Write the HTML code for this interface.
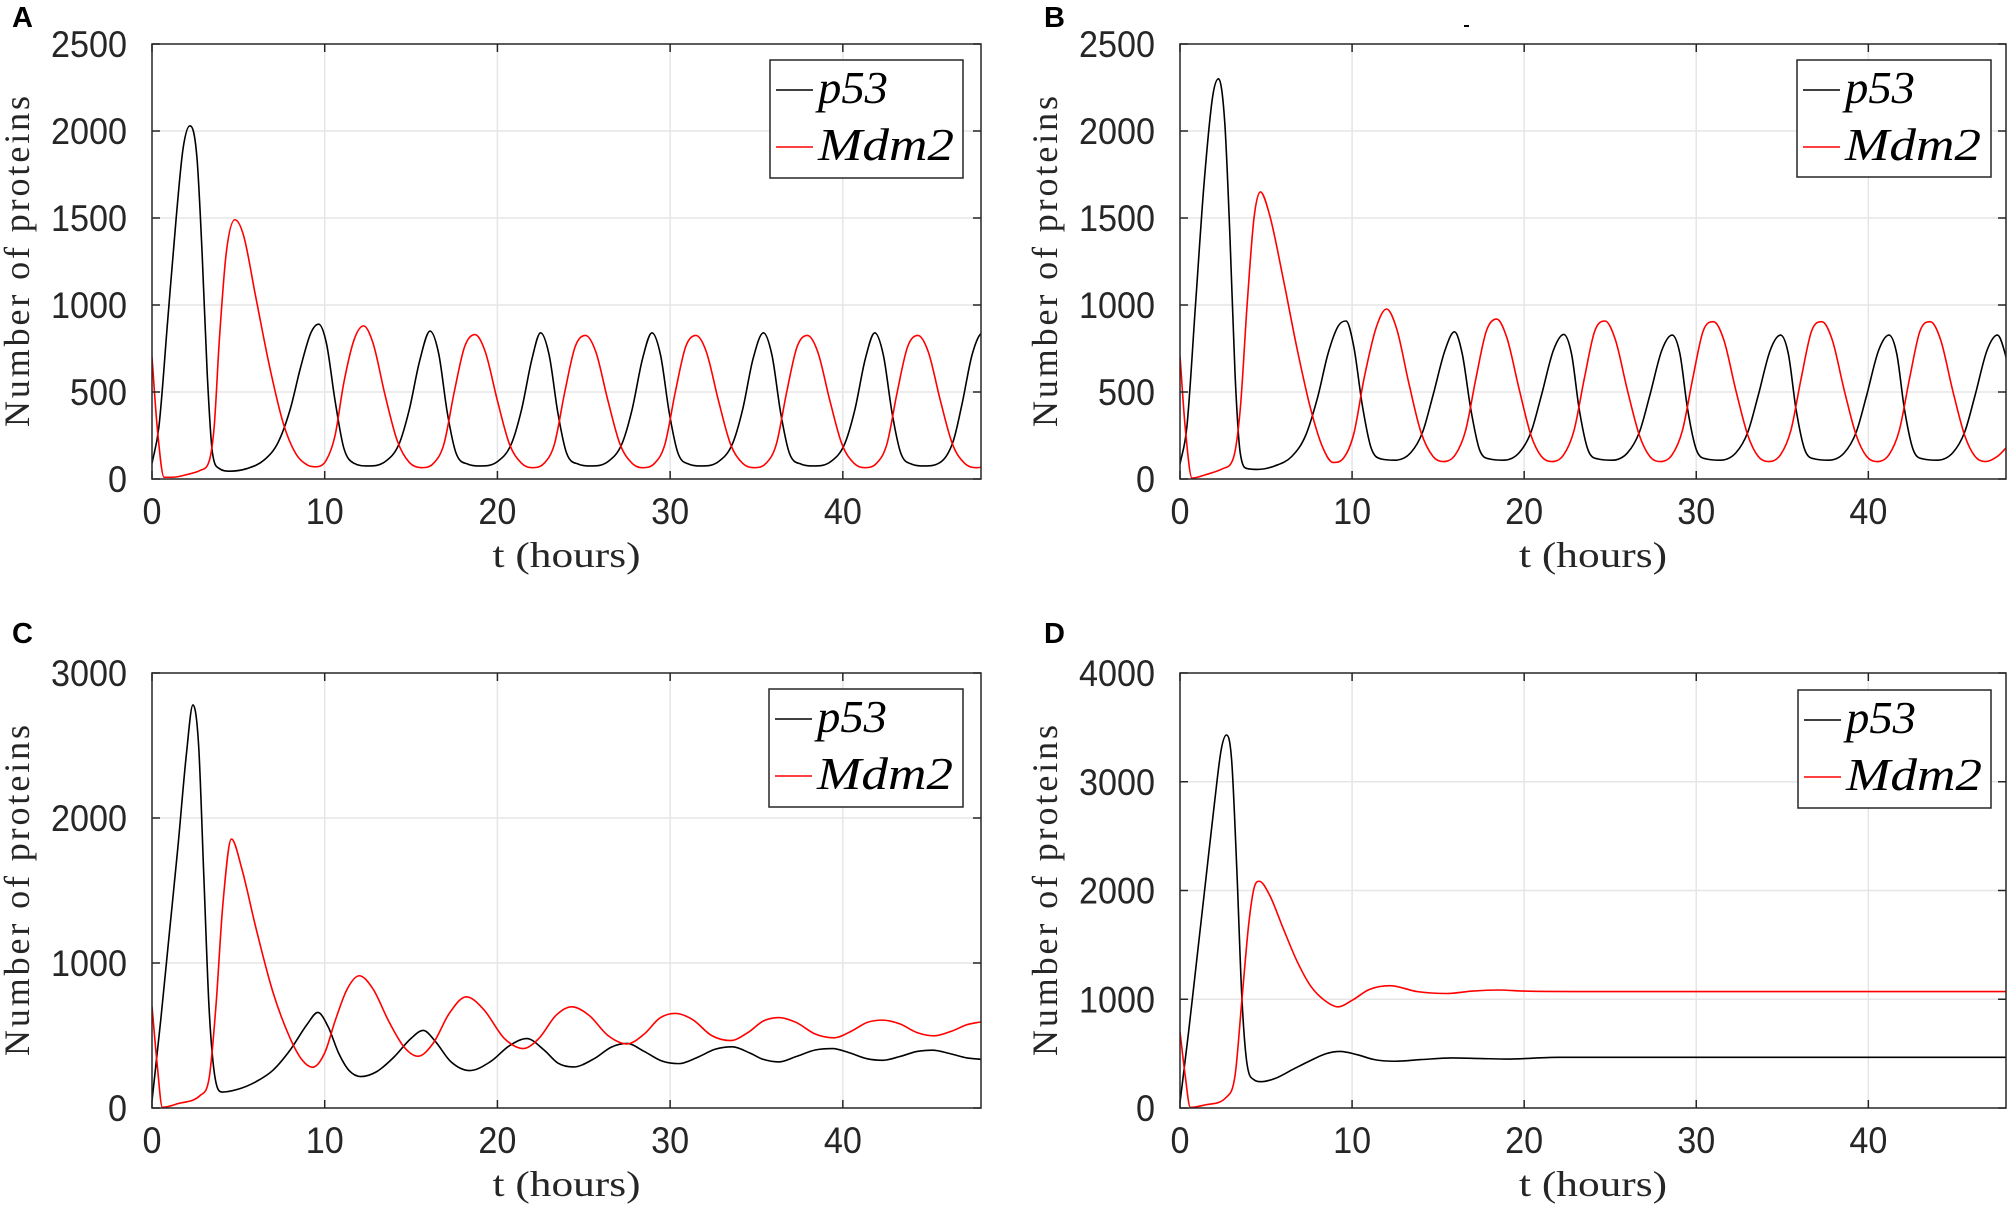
<!DOCTYPE html>
<html><head><meta charset="utf-8"><title>p53 / Mdm2 dynamics</title>
<style>
html,body{margin:0;padding:0;background:#fff;}
svg{display:block;}
.tick{font-family:"Liberation Sans",sans-serif;font-size:37px;fill:#262626;}
.ttl{font-family:"Liberation Serif",serif;font-size:36px;fill:#262626;}
.leg{font-family:"Liberation Serif",serif;font-style:italic;font-size:46px;fill:#000;}
.plab{font-family:"Liberation Sans",sans-serif;font-weight:bold;font-size:29px;fill:#000;}
</style></head>
<body>
<svg id="fig" width="2008" height="1209" viewBox="0 0 2008 1209" xmlns="http://www.w3.org/2000/svg">
<line x1="1464" y1="26" x2="1469" y2="26" stroke="#000" stroke-width="2"/>
</svg>
<script>
// ---------- data (t in hours, value = number of proteins) ----------
const xTicks = [0,10,20,30,40];
const yTicksA = [0,500,1000,1500,2000,2500];
const yTicksB = [0,500,1000,1500,2000,2500];
const yTicksC = [0,1000,2000,3000];
const yTicksD = [0,1000,2000,3000,4000];
const panelLetters = ["A","B","C","D"];
const seriesNames = ["p53","Mdm2"];

const aP53 = [[0,90],[0.4,300],[0.9,900],[1.4,1500],[1.8,1900],[2.2,2030],[2.6,1850],[2.9,1300],[3.2,600],[3.5,150],[3.9,60],[4.5,45],[5.5,60],[6.5,110],[7.3,210],[8.0,400],[8.6,640],[9.2,840],[9.65,890],[10.1,780],[10.6,450],[11.1,180],[11.7,90],[12.5,75],[13.5,100],[14.3,200],[14.9,400],[15.5,680],[16.1,850],[16.6,720],[17.1,380],[17.6,150],[18.3,85],[19.0,75],[20.0,100],[20.8,200],[21.4,400],[22.0,690],[22.5,840],[23.0,710],[23.5,380],[24.0,150],[24.7,85],[25.4,75],[26.4,100],[27.2,200],[27.8,400],[28.4,690],[28.95,840],[29.45,710],[29.95,380],[30.45,150],[31.1,85],[31.8,75],[32.8,100],[33.6,200],[34.2,400],[34.8,690],[35.4,840],[35.9,710],[36.4,380],[36.9,150],[37.6,85],[38.3,75],[39.3,100],[40.1,200],[40.7,400],[41.3,690],[41.85,840],[42.35,710],[42.85,380],[43.35,150],[44.0,85],[44.7,75],[45.7,100],[46.4,220],[46.9,430],[47.5,720],[48.1,840],[48.5,760]];
const aMdm2 = [[0,700],[0.3,300],[0.7,10],[1.2,10],[2,25],[2.8,50],[3.3,100],[3.6,300],[3.9,800],[4.3,1300],[4.8,1490],[5.3,1400],[6,1050],[6.8,650],[7.6,320],[8.3,150],[9,80],[9.5,70],[10.1,110],[10.6,250],[11.1,550],[11.7,800],[12.25,880],[12.8,780],[13.5,480],[14.2,220],[14.9,95],[15.6,65],[16.3,90],[16.9,200],[17.5,500],[18.1,760],[18.7,830],[19.3,730],[20.0,450],[20.7,200],[21.4,90],[22.0,65],[22.7,90],[23.3,200],[23.9,500],[24.5,760],[25.1,825],[25.7,730],[26.4,450],[27.1,200],[27.8,90],[28.4,65],[29.1,90],[29.7,200],[30.3,500],[30.9,760],[31.5,825],[32.1,730],[32.8,450],[33.5,200],[34.2,90],[34.85,65],[35.55,90],[36.15,200],[36.75,500],[37.35,760],[37.95,825],[38.55,730],[39.25,450],[39.95,200],[40.65,90],[41.25,65],[41.95,90],[42.55,200],[43.15,500],[43.75,760],[44.35,825],[44.95,730],[45.65,450],[46.35,200],[47.05,90],[47.7,65],[48.2,70]];

const bP53 = [[0,85],[0.4,300],[0.9,1000],[1.4,1700],[1.9,2200],[2.24,2300],[2.6,2050],[2.9,1400],[3.2,600],[3.5,150],[3.9,60],[4.5,55],[5.5,75],[6.5,130],[7.3,250],[8.0,470],[8.6,720],[9.2,880],[9.65,908],[10.1,760],[10.6,420],[11.1,180],[11.7,115],[12.5,108],[13.4,150],[14.1,270],[14.7,480],[15.4,740],[15.95,846],[16.4,720],[16.9,400],[17.4,170],[18.0,115],[18.8,108],[19.7,150],[20.4,270],[21.0,480],[21.7,740],[22.3,831],[22.75,720],[23.2,400],[23.7,170],[24.3,115],[25.1,108],[26.0,150],[26.7,270],[27.3,480],[28.0,740],[28.6,827],[29.05,720],[29.5,400],[30.0,170],[30.6,115],[31.4,108],[32.3,150],[33.0,270],[33.6,480],[34.3,740],[34.9,827],[35.35,720],[35.8,400],[36.3,170],[36.9,115],[37.7,108],[38.6,150],[39.3,270],[39.9,480],[40.6,740],[41.2,827],[41.65,720],[42.1,400],[42.6,170],[43.2,115],[44.0,108],[44.9,150],[45.6,270],[46.2,480],[46.9,740],[47.5,827],[47.95,720],[48.2,600]];
const bMdm2 = [[0,707],[0.3,300],[0.7,5],[1.5,25],[2.5,60],[3.1,120],[3.5,400],[3.9,1000],[4.3,1500],[4.67,1650],[5.2,1520],[6,1150],[6.8,750],[7.6,400],[8.3,180],[8.9,95],[9.5,120],[10.1,260],[10.7,580],[11.4,870],[12.0,977],[12.6,860],[13.3,550],[14.0,270],[14.7,130],[15.3,100],[16.0,140],[16.6,280],[17.2,580],[17.8,850],[18.4,919],[19.0,810],[19.7,520],[20.4,250],[21.0,130],[21.6,100],[22.3,140],[22.9,280],[23.5,580],[24.1,850],[24.7,908],[25.3,800],[26.0,510],[26.7,250],[27.3,130],[27.9,100],[28.6,140],[29.2,280],[29.8,580],[30.4,850],[31.0,904],[31.6,800],[32.3,510],[33.0,250],[33.6,130],[34.2,100],[34.9,140],[35.5,280],[36.1,580],[36.7,850],[37.3,904],[37.9,800],[38.6,510],[39.3,250],[39.9,130],[40.5,100],[41.2,140],[41.8,280],[42.4,580],[43.0,850],[43.6,904],[44.2,800],[44.9,510],[45.6,250],[46.2,130],[46.8,100],[47.5,130],[48.2,200]];

const cP53 = [[0,50],[0.5,600],[1,1200],[1.5,1800],[2,2450],[2.37,2780],[2.7,2500],[3.0,1600],[3.3,700],[3.6,250],[4.05,110],[5,130],[6,180],[7,260],[8,400],[9,580],[9.6,659],[10.2,560],[10.8,380],[11.4,260],[12.1,217],[13,250],[14,350],[15,480],[15.7,535],[16.4,460],[17.3,320],[18.4,258],[19.6,320],[20.7,430],[21.7,479],[22.7,400],[23.5,310],[24.4,283],[25.6,340],[26.6,420],[27.5,445],[28.5,390],[29.5,325],[30.5,306],[31.6,350],[32.6,405],[33.6,422],[34.6,380],[35.4,335],[36.3,318],[37.3,355],[38.4,400],[39.4,410],[40.4,380],[41.4,340],[42.3,329],[43.3,355],[44.3,390],[45.2,399],[46.2,375],[47.2,345],[48,336]];
const cMdm2 = [[0,700],[0.3,300],[0.6,5],[1.5,30],[2.8,88],[3.3,200],[3.7,700],[4.1,1400],[4.6,1855],[5.2,1650],[6,1250],[7,800],[8,480],[8.7,330],[9.3,281],[10,380],[10.6,600],[11.3,820],[12,912],[12.8,820],[13.7,600],[14.6,420],[15.4,357],[16.3,450],[17.2,650],[18.2,767],[19.2,680],[20.4,480],[21.5,410],[22.4,480],[23.4,640],[24.3,698],[25.3,640],[26.4,500],[27.5,442],[28.5,510],[29.4,620],[30.3,652],[31.3,610],[32.4,500],[33.5,465],[34.5,520],[35.4,600],[36.3,624],[37.3,590],[38.4,510],[39.5,484],[40.5,530],[41.4,590],[42.3,606],[43.3,580],[44.3,520],[45.3,498],[46.3,530],[47.2,575],[48,594]];

const dP53 = [[0,50],[0.5,700],[1,1400],[1.5,2100],[2,2800],[2.4,3300],[2.7,3430],[3,3200],[3.3,2200],[3.6,1000],[3.9,400],[4.3,260],[4.7,242],[5.5,270],[6.5,350],[7.5,430],[8.5,500],[9.3,520],[10.3,490],[11.3,445],[12.5,430],[14,445],[15.8,460],[17.5,455],[19,450],[22,466],[30,466],[48,466]];
const dMdm2 = [[0,700],[0.3,300],[0.6,5],[1.5,30],[2.7,100],[3.2,300],[3.6,1000],[4.0,1700],[4.3,2020],[4.6,2085],[5.2,1960],[6.0,1650],[6.8,1350],[7.6,1120],[8.4,990],[9.2,930],[10,990],[11,1090],[12.2,1125],[13.8,1070],[15.5,1053],[17,1075],[18.5,1085],[20,1075],[23,1071],[48,1071]];

// ---------- layout ----------
const panels = [
  {L:152, R:981, T:44, B:479, yMax:2500, yt:yTicksA, s:[aP53,aMdm2], lg:[770,60,963,178], lab:[12,27]},
  {L:1180, R:2006, T:44, B:479, yMax:2500, yt:yTicksB, s:[bP53,bMdm2], lg:[1797,60,1991,177], lab:[1044,27]},
  {L:152, R:981, T:673, B:1108, yMax:3000, yt:yTicksC, s:[cP53,cMdm2], lg:[769,689,963,807], lab:[12,643]},
  {L:1180, R:2006, T:673, B:1108, yMax:4000, yt:yTicksD, s:[dP53,dMdm2], lg:[1798,690,1991,808], lab:[1044,643]}
];
const colors = ["#000000","#ff0000"];
const NS = "http://www.w3.org/2000/svg";
const svg = document.getElementById("fig");
function mk(tag, attrs, parent){ const e=document.createElementNS(NS,tag); for(const k in attrs) e.setAttribute(k,attrs[k]); (parent||svg).appendChild(e); return e; }

function monotone(pts){
  const n=pts.length, xs=pts.map(p=>p[0]), ys=pts.map(p=>p[1]);
  const d=[], m=new Array(n);
  for(let i=0;i<n-1;i++) d.push((ys[i+1]-ys[i])/(xs[i+1]-xs[i]));
  m[0]=d[0]; m[n-1]=d[n-2];
  for(let i=1;i<n-1;i++){ m[i]=(d[i-1]*d[i]<=0)?0:(d[i-1]+d[i])/2; }
  for(let i=0;i<n-1;i++){
    if(d[i]===0){m[i]=0;m[i+1]=0;continue;}
    const a=m[i]/d[i], b=m[i+1]/d[i], s=a*a+b*b;
    if(s>9){const t=3/Math.sqrt(s); m[i]=t*a*d[i]; m[i+1]=t*b*d[i];}
  }
  return {xs,ys,m};
}

panels.forEach((p,pi)=>{
  const g = mk("g",{});
  
  
  const X = t => p.L + (t/48)*(p.R-p.L);
  const Y = v => p.B - (v/p.yMax)*(p.B-p.T);

  const pl = mk("text",{x:p.lab[0], y:p.lab[1], class:"plab"}, g);
  pl.textContent = panelLetters[pi];
  
  

  xTicks.forEach(t=>{ if(t>0){ const l=mk("line",{x1:X(t),x2:X(t),y1:p.T,y2:p.B,stroke:"#e6e6e6","stroke-width":1.5},g);
      }});
  p.yt.forEach(v=>{ if(v>0 && v<p.yMax){ const l=mk("line",{x1:p.L,x2:p.R,y1:Y(v),y2:Y(v),stroke:"#e6e6e6","stroke-width":1.5},g);
      }});

  const cp = mk("clipPath",{id:"clip"+pi},g);
  mk("rect",{x:p.L,y:p.T,width:p.R-p.L,height:p.B-p.T},cp);

  p.s.forEach((pts,si)=>{
    const f=monotone(pts); let dstr="";
    for(let i=0;i<f.xs.length-1;i++){
      const x0=f.xs[i],x1=f.xs[i+1],h=x1-x0,y0=f.ys[i],y1=f.ys[i+1];
      if(i===0) dstr+="M"+X(x0).toFixed(2)+","+Y(y0).toFixed(2);
      dstr+=" C"+X(x0+h/3).toFixed(2)+","+Y(y0+f.m[i]*h/3).toFixed(2)+" "+X(x1-h/3).toFixed(2)+","+Y(y1-f.m[i+1]*h/3).toFixed(2)+" "+X(x1).toFixed(2)+","+Y(y1).toFixed(2);
    }
    const path = mk("path",{d:dstr,fill:"none",stroke:colors[si],"stroke-width":1.6,"clip-path":"url(#clip"+pi+")"},g);
    
    
  });

  const box = mk("rect",{x:p.L,y:p.T,width:p.R-p.L,height:p.B-p.T,fill:"none",stroke:"#262626","stroke-width":1.5},g);
  
  

  xTicks.forEach(t=>{
    mk("line",{x1:X(t),x2:X(t),y1:p.B,y2:p.B-8,stroke:"#262626","stroke-width":1.5},g);
    mk("line",{x1:X(t),x2:X(t),y1:p.T,y2:p.T+8,stroke:"#262626","stroke-width":1.5},g);
    const s=String(t);
    const tx = mk("text",{x:X(t), y:p.B+45, class:"tick","text-anchor":"middle",textLength:19*s.length,lengthAdjust:"spacingAndGlyphs"},g);
    tx.textContent = t;
    
    
  });
  p.yt.forEach(v=>{
    mk("line",{x1:p.L,x2:p.L+8,y1:Y(v),y2:Y(v),stroke:"#262626","stroke-width":1.5},g);
    mk("line",{x1:p.R,x2:p.R-8,y1:Y(v),y2:Y(v),stroke:"#262626","stroke-width":1.5},g);
    const s=String(v);
    const ty = mk("text",{x:p.L-25, y:Y(v)+13, class:"tick","text-anchor":"end",textLength:19*s.length,lengthAdjust:"spacingAndGlyphs"},g);
    ty.textContent = v;
    
    
  });

  const xt = mk("text",{x:(p.L+p.R)/2, y:p.B+88, class:"ttl","text-anchor":"middle",textLength:148,lengthAdjust:"spacingAndGlyphs"},g);
  xt.textContent = "t (hours)";
  
  
  const cy=(p.T+p.B)/2, cx=p.L-123;
  const yt = mk("text",{x:cx, y:cy, class:"ttl","text-anchor":"middle",transform:"rotate(-90 "+cx+" "+cy+")",textLength:331,lengthAdjust:"spacing"},g);
  yt.textContent = "Number of proteins";
  
  

  const [lx0,ly0,lx1,ly1]=p.lg;
  const lg = mk("g",{},g);
  
  
  mk("rect",{x:lx0,y:ly0,width:lx1-lx0,height:ly1-ly0,fill:"#fff",stroke:"#262626","stroke-width":1.5},lg);
  seriesNames.forEach((nm,si)=>{
    const ly = ly0 + 30 + si*57;
    const ln = mk("line",{x1:lx0+6,x2:lx0+43,y1:ly,y2:ly,stroke:colors[si],"stroke-width":1.6},lg);
    
    
    const lt = mk("text",{x:lx0+48, y:ly+13, class:"leg",textLength:(si===0?70:136),lengthAdjust:"spacingAndGlyphs"},lg);
    lt.textContent = nm;
    
    
  });
});
</script>
</body></html>
